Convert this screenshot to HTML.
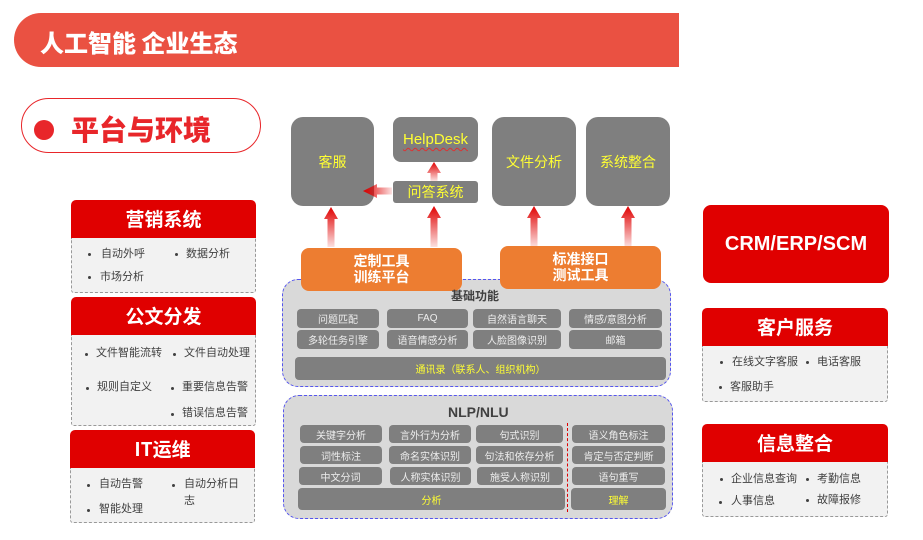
<!DOCTYPE html>
<html><head><meta charset="utf-8">
<style>
*{margin:0;padding:0;box-sizing:border-box}
body{width:923px;height:540px;background:#fff;position:relative;overflow:hidden;font-family:"Liberation Sans","Noto Sans CJK SC",sans-serif}
.a{position:absolute}
.hdr{left:14px;top:13px;width:665px;height:54px;background:#EA5142;border-radius:27px 0 0 27px}
.hdr span{position:absolute;left:26px;top:11px;color:#fff;font-size:24px;font-weight:900;white-space:nowrap;font-family:"Noto Sans CJK SC",sans-serif}
.pill{left:21px;top:98px;width:240px;height:55px;border:1.5px solid #E8262A;border-radius:28px;background:#fff}
.dot{left:34px;top:120px;width:20px;height:20px;border-radius:50%;background:#E8262A}
.pilltxt{left:71px;top:110px;font-size:28px;font-weight:900;color:#E8262A;font-family:"Noto Sans CJK SC",sans-serif;line-height:38px;white-space:nowrap}
.rh{background:#E00000;color:#fff;font-weight:bold;text-align:center;border-radius:5px 5px 0 0;font-family:"Noto Sans CJK SC",sans-serif}
.bd{background:#F2F2F2;border:1px dashed #999;border-top:none;border-radius:0 0 3px 3px}
.t{position:absolute;font-size:11px;color:#404040;white-space:nowrap;line-height:14px}
.b{position:absolute;width:3px;height:3px;background:#404040;border-radius:50%}
.g{background:#7F7F7F;border-radius:12px;color:#FFFF33;font-size:14px;display:flex;align-items:center;justify-content:center}
.or{background:#ED7D31;color:#fff;font-weight:bold;font-size:14px;border-radius:8px;text-align:center;line-height:16px;padding-top:5px}
.panel{background:#D9D9D9;border:1px dashed #5555ee;border-radius:16px}
.c{position:absolute;background:#7F7F7F;border-radius:4px;color:#EDEDED;font-size:10px;display:flex;align-items:center;justify-content:center;white-space:nowrap}
.ttl{position:absolute;font-weight:bold;color:#404040;white-space:nowrap}
</style></head><body>

<div class="a hdr"><span>人工智能 企业生态</span></div>
<div class="a pill"></div>
<div class="a dot"></div>
<div class="a pilltxt">平台与环境</div>

<!-- left boxes -->
<div class="a rh" style="left:71px;top:200px;width:185px;height:38px;font-size:19px;line-height:38px">营销系统</div>
<div class="a bd" style="left:71px;top:238px;width:185px;height:55px"></div>
<div class="b" style="left:88px;top:253px"></div><div class="t" style="left:101px;top:247px">自动外呼</div>
<div class="b" style="left:175px;top:253px"></div><div class="t" style="left:186px;top:247px">数据分析</div>
<div class="b" style="left:88px;top:276px"></div><div class="t" style="left:100px;top:270px">市场分析</div>

<div class="a rh" style="left:71px;top:297px;width:185px;height:38px;font-size:19px;line-height:38px">公文分发</div>
<div class="a bd" style="left:71px;top:335px;width:185px;height:91px"></div>
<div class="b" style="left:85px;top:353px"></div><div class="t" style="left:96px;top:346px">文件智能流转</div>
<div class="b" style="left:173px;top:353px"></div><div class="t" style="left:184px;top:346px">文件自动处理</div>
<div class="b" style="left:86px;top:387px"></div><div class="t" style="left:97px;top:380px">规则自定义</div>
<div class="b" style="left:171px;top:387px"></div><div class="t" style="left:182px;top:380px">重要信息告警</div>
<div class="b" style="left:171px;top:413px"></div><div class="t" style="left:182px;top:406px">错误信息告警</div>

<div class="a rh" style="left:70px;top:430px;width:185px;height:38px;font-size:19px;line-height:38px">IT运维</div>
<div class="a bd" style="left:70px;top:468px;width:185px;height:55px"></div>
<div class="b" style="left:87px;top:484px"></div><div class="t" style="left:99px;top:477px">自动告警</div>
<div class="b" style="left:172px;top:484px"></div><div class="t" style="left:184px;top:477px">自动分析日</div>
<div class="t" style="left:184px;top:494px">志</div>
<div class="b" style="left:87px;top:509px"></div><div class="t" style="left:99px;top:502px">智能处理</div>

<!-- right boxes -->
<div class="a rh" style="left:703px;top:205px;width:186px;height:78px;border-radius:8px;font-size:20px;line-height:78px;font-family:'Liberation Sans',sans-serif">CRM/ERP/SCM</div>

<div class="a rh" style="left:702px;top:308px;width:186px;height:38px;font-size:19px;line-height:38px">客户服务</div>
<div class="a bd" style="left:702px;top:346px;width:186px;height:56px"></div>
<div class="b" style="left:720px;top:361px"></div><div class="t" style="left:732px;top:355px">在线文字客服</div>
<div class="b" style="left:806px;top:361px"></div><div class="t" style="left:817px;top:355px">电话客服</div>
<div class="b" style="left:719px;top:386px"></div><div class="t" style="left:730px;top:380px">客服助手</div>

<div class="a rh" style="left:702px;top:424px;width:186px;height:38px;font-size:19px;line-height:38px">信息整合</div>
<div class="a bd" style="left:702px;top:462px;width:186px;height:55px"></div>
<div class="b" style="left:720px;top:478px"></div><div class="t" style="left:731px;top:472px">企业信息查询</div>
<div class="b" style="left:806px;top:478px"></div><div class="t" style="left:817px;top:472px">考勤信息</div>
<div class="b" style="left:719px;top:501px"></div><div class="t" style="left:731px;top:494px">人事信息</div>
<div class="b" style="left:806px;top:499px"></div><div class="t" style="left:817px;top:493px">故障报修</div>

<!-- top gray boxes -->
<div class="a g" style="left:291px;top:117px;width:83px;height:89px">客服</div>
<div class="a g" style="left:393px;top:117px;width:85px;height:45px;border-radius:8px"><span style="font-size:15px;text-decoration:underline wavy #e03030;text-underline-offset:3px;text-decoration-thickness:1px">HelpDesk</span></div>
<div class="a g" style="left:393px;top:181px;width:85px;height:22px;border-radius:3px">问答系统</div>
<div class="a g" style="left:492px;top:117px;width:84px;height:89px">文件分析</div>
<div class="a g" style="left:586px;top:117px;width:84px;height:89px">系统整合</div>

<!-- arrows -->
<svg class="a" style="left:0;top:0" width="923" height="540">
<defs>
<linearGradient id="gv" x1="0" y1="0" x2="0" y2="1">
<stop offset="0" stop-color="#E00000"/><stop offset="1" stop-color="#E00000" stop-opacity="0.12"/>
</linearGradient>
<linearGradient id="gh" x1="0" y1="0" x2="1" y2="0">
<stop offset="0" stop-color="#E00000"/><stop offset="1" stop-color="#E00000" stop-opacity="0.12"/>
</linearGradient>
</defs>
<path d="M331 207 L338 219 L334.5 219 L334.5 247 L327.5 247 L327.5 219 L324 219 Z" fill="url(#gv)"/>
<path d="M434 206 L441 218 L437.5 218 L437.5 247 L430.5 247 L430.5 218 L427 218 Z" fill="url(#gv)"/>
<path d="M434 162 L441 173 L437.5 173 L437.5 181 L430.5 181 L430.5 173 L427 173 Z" fill="url(#gv)"/>
<path d="M534 206 L541 218 L537.5 218 L537.5 247 L530.5 247 L530.5 218 L527 218 Z" fill="url(#gv)"/>
<path d="M628 206 L635 218 L631.5 218 L631.5 247 L624.5 247 L624.5 218 L621 218 Z" fill="url(#gv)"/>
<path d="M363 191 L377 184 L377 187.5 L392 187.5 L392 194.5 L377 194.5 L377 198 Z" fill="url(#gh)"/>
</svg>

<!-- base panel -->
<div class="a panel" style="left:282px;top:279px;width:389px;height:108px"></div>
<div class="a or" style="left:301px;top:248px;width:161px;height:43px">定制工具<br>训练平台</div>
<div class="a or" style="left:500px;top:246px;width:161px;height:43px">标准接口<br>测试工具</div>
<div class="ttl" style="left:451px;top:288px;font-size:12px;line-height:16px">基础功能</div>
<div class="c" style="left:297px;top:309px;width:82px;height:19px">问题匹配</div>
<div class="c" style="left:387px;top:309px;width:81px;height:19px">FAQ</div>
<div class="c" style="left:473px;top:309px;width:88px;height:19px">自然语言聊天</div>
<div class="c" style="left:569px;top:309px;width:93px;height:19px">情感/意图分析</div>
<div class="c" style="left:297px;top:330px;width:82px;height:19px">多轮任务引擎</div>
<div class="c" style="left:387px;top:330px;width:81px;height:19px">语音情感分析</div>
<div class="c" style="left:473px;top:330px;width:88px;height:19px">人脸图像识别</div>
<div class="c" style="left:569px;top:330px;width:93px;height:19px">邮箱</div>
<div class="c" style="left:295px;top:357px;width:371px;height:23px;color:#FFFF33">通讯录（联系人、组织机构）</div>

<!-- NLP panel -->
<div class="a panel" style="left:283px;top:395px;width:390px;height:124px"></div>
<div class="ttl" style="left:448px;top:404px;font-size:14px;line-height:17px;font-family:'Liberation Sans',sans-serif">NLP/NLU</div>
<div class="c" style="left:300px;top:425px;width:82px;height:18px">关键字分析</div>
<div class="c" style="left:389px;top:425px;width:82px;height:18px">言外行为分析</div>
<div class="c" style="left:476px;top:425px;width:87px;height:18px">句式识别</div>
<div class="c" style="left:572px;top:425px;width:93px;height:18px">语义角色标注</div>
<div class="c" style="left:300px;top:446px;width:82px;height:18px">词性标注</div>
<div class="c" style="left:389px;top:446px;width:82px;height:18px">命名实体识别</div>
<div class="c" style="left:476px;top:446px;width:87px;height:18px">句法和依存分析</div>
<div class="c" style="left:572px;top:446px;width:93px;height:18px">肯定与否定判断</div>
<div class="c" style="left:299px;top:467px;width:83px;height:18px">中文分词</div>
<div class="c" style="left:390px;top:467px;width:81px;height:18px">人称实体识别</div>
<div class="c" style="left:477px;top:467px;width:86px;height:18px">施受人称识别</div>
<div class="c" style="left:572px;top:467px;width:93px;height:18px">语句重写</div>
<div class="c" style="left:298px;top:488px;width:267px;height:22px;color:#FFFF33">分析</div>
<div class="c" style="left:571px;top:488px;width:95px;height:22px;color:#FFFF33">理解</div>
<div class="a" style="left:567px;top:423px;width:0;height:89px;border-left:1.5px dashed #E00000"></div>

</body></html>
